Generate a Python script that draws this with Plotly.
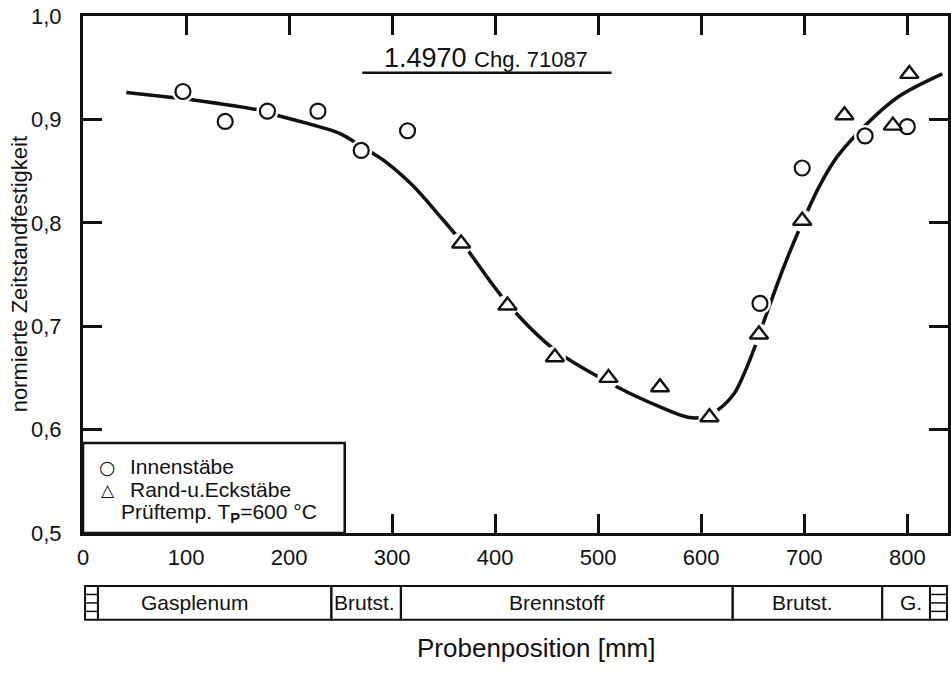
import plotly.graph_objects as go

# ---- data ----
inner_x = [97, 138, 179, 228, 270, 315, 657, 698, 759, 800]
inner_y = [0.927, 0.898, 0.908, 0.908, 0.870, 0.889, 0.722, 0.853, 0.884, 0.893]

edge_x = [367, 412, 458, 510, 560, 608, 656, 698, 739, 786, 802]
edge_y = [0.780, 0.720, 0.670, 0.650, 0.641, 0.612, 0.692, 0.802, 0.904, 0.894, 0.944]

curve_x = [42, 89, 106, 171, 188, 229, 250, 270, 295, 320, 345, 367, 412, 458, 519, 560,
           587, 601, 616, 632, 642, 652, 662, 680, 698, 715, 732, 758, 790, 834]
curve_y = [0.926, 0.921, 0.919, 0.909, 0.904, 0.893, 0.886, 0.874, 0.858, 0.836, 0.808,
           0.782, 0.722, 0.677, 0.641, 0.622, 0.612, 0.612, 0.619, 0.635, 0.655, 0.680,
           0.708, 0.757, 0.800, 0.836, 0.864, 0.893, 0.921, 0.944]

x_ticks = [0, 100, 200, 300, 400, 500, 600, 700, 800]
y_ticks = [0.5, 0.6, 0.7, 0.8, 0.9, 1.0]

bar_edges = [2, 14.5, 241, 308.5, 630.5, 775.6, 822, 838.5]
bar_labels = ["", "Gasplenum", "Brutst.", "Brennstoff", "Brutst.", "G.", ""]
bar_label_x = [None, 108, 273, 460, 698, 804, None]

legend_names = ["Innenstäbe", "Rand-u.Eckstäbe"]
title_main = "1.4970"
title_sub = "Chg. 71087"
temp_text = "Prüftemp. T<sub><b>P</b></sub>=600 °C"

FONT = "Liberation Sans, Arial, sans-serif"
BLACK = "#111111"

fig = go.Figure()

# fitted curve
fig.add_trace(go.Scatter(x=curve_x, y=curve_y, mode="lines", line_shape="spline",
                         line=dict(color=BLACK, width=3.5), showlegend=False,
                         hoverinfo="skip"))
# white halos around markers (gap in the curve)
fig.add_trace(go.Scatter(x=inner_x + edge_x, y=inner_y + edge_y, mode="markers",
                         marker=dict(symbol="circle", size=22, color="white"),
                         showlegend=False, hoverinfo="skip"))
fig.add_trace(go.Scatter(x=inner_x, y=inner_y, mode="markers", name=legend_names[0],
                         marker=dict(symbol="circle", size=15, color="white",
                                     line=dict(color=BLACK, width=2.2)),
                         showlegend=False))
fig.add_trace(go.Scatter(x=edge_x, y=edge_y, mode="markers", name=legend_names[1],
                         marker=dict(symbol="triangle-up", size=16, color="white",
                                     line=dict(color=BLACK, width=2.4)),
                         showlegend=False))

shapes = []
annotations = []

# title with underline
annotations.append(dict(x=391, y=0.959, xref="x", yref="y", showarrow=False,
                        yanchor="middle", xanchor="center",
                        text=f"{title_main} <span style='font-size:22px'>{title_sub}</span>",
                        font=dict(family=FONT, size=27, color=BLACK)))
shapes.append(dict(type="line", xref="x", yref="y", x0=271, x1=513, y0=0.945, y1=0.945,
                   line=dict(color=BLACK, width=2.5)))

# legend box
shapes.append(dict(type="rect", xref="x", yref="y", x0=0, x1=254, y0=0.5, y1=0.587,
                   line=dict(color=BLACK, width=2.5), fillcolor="white", layer="above"))
annotations.append(dict(x=24, y=0.564, xref="x", yref="y", showarrow=False, text="○",
                        yanchor="middle", font=dict(family="DejaVu Sans", size=19, color=BLACK)))
annotations.append(dict(x=24, y=0.542, xref="x", yref="y", showarrow=False, text="△",
                        yanchor="middle", font=dict(family="DejaVu Sans", size=17, color=BLACK)))
annotations.append(dict(x=44, y=0.564, xref="x", yref="y", showarrow=False, xanchor="left",
                        yanchor="middle", text=legend_names[0],
                        font=dict(family=FONT, size=21, color=BLACK)))
annotations.append(dict(x=44, y=0.542, xref="x", yref="y", showarrow=False, xanchor="left",
                        yanchor="middle", text=legend_names[1],
                        font=dict(family=FONT, size=21, color=BLACK)))
annotations.append(dict(x=35, y=0.519, xref="x", yref="y", showarrow=False, xanchor="left",
                        yanchor="middle", text=temp_text,
                        font=dict(family=FONT, size=21, color=BLACK)))

# bottom position bar
bar_y0, bar_y1 = -0.168, -0.1025
for i, lab in enumerate(bar_labels):
    x0, x1 = bar_edges[i], bar_edges[i + 1]
    shapes.append(dict(type="rect", xref="x", yref="paper", x0=x0, x1=x1,
                       y0=bar_y0, y1=bar_y1, line=dict(color=BLACK, width=2)))
    if lab:
        annotations.append(dict(x=bar_label_x[i], y=(bar_y0 + bar_y1) / 2, xref="x",
                                yref="paper", showarrow=False, text=lab,
                                xanchor="center", yanchor="middle",
                                font=dict(family=FONT, size=21, color=BLACK)))
    else:
        for k in range(1, 4):
            yy = bar_y0 + (bar_y1 - bar_y0) * k / 4
            shapes.append(dict(type="line", xref="x", yref="paper", x0=x0, x1=x1,
                               y0=yy, y1=yy, line=dict(color=BLACK, width=1.5)))

# axis titles
annotations.append(dict(x=-0.073, y=0.5, xref="paper", yref="paper", showarrow=False,
                        xanchor="center", yanchor="middle",
                        text="normierte Zeitstandfestigkeit", textangle=-90,
                        font=dict(family=FONT, size=22, color=BLACK)))
annotations.append(dict(x=0.524, y=-0.222, xref="paper", yref="paper", showarrow=False,
                        xanchor="center", yanchor="middle",
                        text="Probenposition [mm]",
                        font=dict(family=FONT, size=26, color=BLACK)))

fig.update_layout(
    width=951, height=674,
    margin=dict(l=83, r=0, t=16, b=141),
    paper_bgcolor="white", plot_bgcolor="white",
    separators=",.",
    showlegend=False,
    shapes=shapes, annotations=annotations,
    font=dict(family=FONT, color=BLACK),
)
fig.update_xaxes(range=[0, 839.5], tickvals=x_ticks, ticktext=[str(v) for v in x_ticks],
                 ticks="inside", ticklen=19, tickwidth=2.5, tickcolor=BLACK,
                 showline=True, linewidth=3, linecolor=BLACK, mirror="ticks",
                 showgrid=False, zeroline=False, ticklabelstandoff=3,
                 tickfont=dict(family=FONT, size=22, color=BLACK))
fig.update_yaxes(range=[0.5, 1.0], tickvals=y_ticks, tickformat=".1f",
                 ticks="inside", ticklen=19, tickwidth=2.5, tickcolor=BLACK,
                 showline=True, linewidth=3, linecolor=BLACK, mirror="ticks",
                 showgrid=False, zeroline=False, ticklabelstandoff=14,
                 tickfont=dict(family=FONT, size=22, color=BLACK))

fig.write_html("out.html")
